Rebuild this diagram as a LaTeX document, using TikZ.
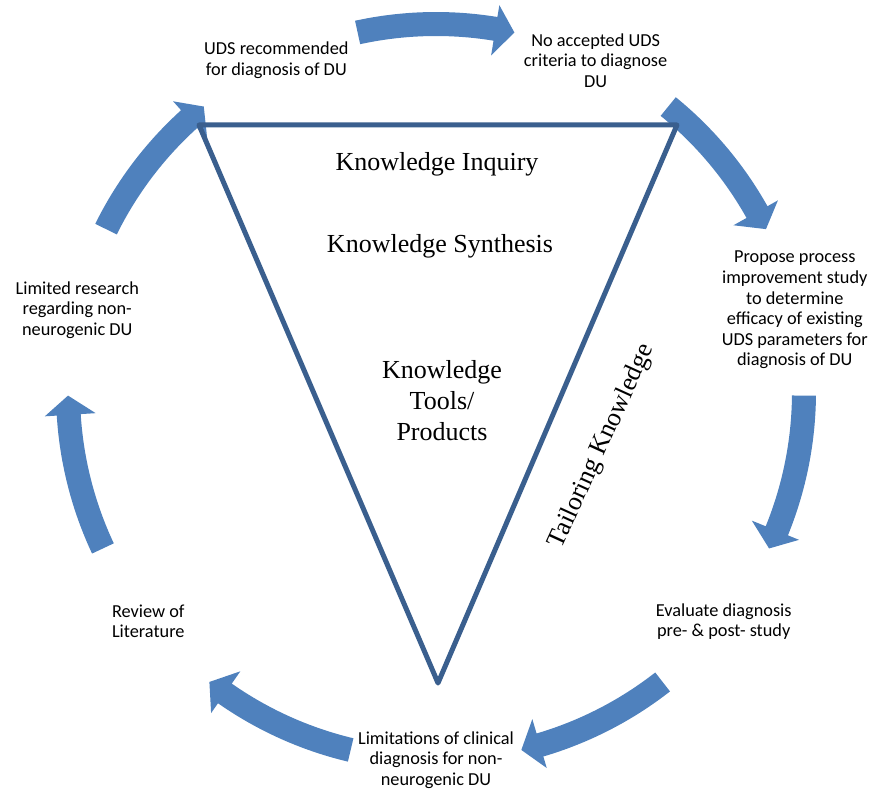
\documentclass[tikz,border=0pt]{standalone}
\usepackage{fontspec}
\setmainfont{Liberation Serif}
\newfontfamily\labelfont{Carlito}
\definecolor{arrowblue}{HTML}{4F81BD}
\definecolor{triblue}{HTML}{3A5F8E}

\tikzset{
  lbl/.style={font=\labelfont\fontsize{18.3}{20.6}\selectfont, align=center, text=black, inner sep=0pt},
  ktext/.style={font=\fontsize{26}{31}\selectfont, align=center, text=black, inner sep=0pt},
  tri/.style={draw=triblue, line width=5pt, line join=round},
}

% curved block arrow centred on angle #1 around (ctr), running clockwise
\newcommand\blockarrow[1]{%
  \pgfmathsetmacro\tailang{#1+12.3}%
  \pgfmathsetmacro\baseang{#1-9.3}%
  \pgfmathsetmacro\tipang{#1-12.3}%
  \fill[arrowblue]
    ([shift={(\tailang:356pt)}]ctr) arc[start angle=\tailang, end angle=\baseang, radius=356pt]
    -- ([shift={(\baseang:341pt)}]ctr)
    -- ([shift={(\tipang:368pt)}]ctr)
    -- ([shift={(\baseang:392pt)}]ctr)
    -- ([shift={(\baseang:380pt)}]ctr)
    arc[start angle=\baseang, end angle=\tailang, radius=380pt] -- cycle;%
}

\begin{document}
\begin{tikzpicture}[x=1pt, y=1pt]
  \useasboundingbox (0,0) rectangle (877,-794);
  \coordinate (ctr) at (436,-392);

  % cycle of block arrows
  \foreach \m in {90, 38.57, -12.86, -64.29, -115.71, -167.14, 141.43}{\blockarrow{\m}}

  % cycle labels
  \node[lbl] (uds)  at ([shift={(115.71:368pt)}]ctr) {UDS recommended\\for diagnosis of DU};
  \node[lbl] (noacc) at ([shift={(64.29:368pt)}]ctr) {No accepted UDS\\criteria to diagnose\\DU};
  \node[lbl] (prop) at ([shift={(12.86:368pt)}]ctr) {Propose process\\improvement study\\to determine\\efficacy of existing\\UDS parameters for\\diagnosis of DU};
  \node[lbl] (eval) at ([shift={(-38.57:368pt)}]ctr) {Evaluate diagnosis\\pre- \& post- study};
  \node[lbl] (limc) at ([shift={(-90:368pt)}]ctr) {Limitations of clinical\\diagnosis for non-\\neurogenic DU};
  \node[lbl] (rev)  at ([shift={(-141.43:368pt)}]ctr) {Review of\\Literature};
  \node[lbl] (limr) at ([shift={(167.14:368pt)}]ctr) {Limited research\\regarding non-\\neurogenic DU};

  % knowledge triangle
  \coordinate (tl) at (199,-125);
  \coordinate (tr) at (677,-125);
  \coordinate (bt) at (438,-683);
  \draw[tri] (tl) -- (tr) -- (bt) -- cycle;

  \node[ktext] (inq) at (437,-164) {Knowledge Inquiry};
  \node[ktext] (syn) at (440,-246) {Knowledge Synthesis};
  \node[ktext] (tools) at (442,-401) {Knowledge\\Tools/\\Products};
  \node[ktext, rotate=65.5] (tailor) at (602,-446) {Tailoring Knowledge};
\end{tikzpicture}
\end{document}
